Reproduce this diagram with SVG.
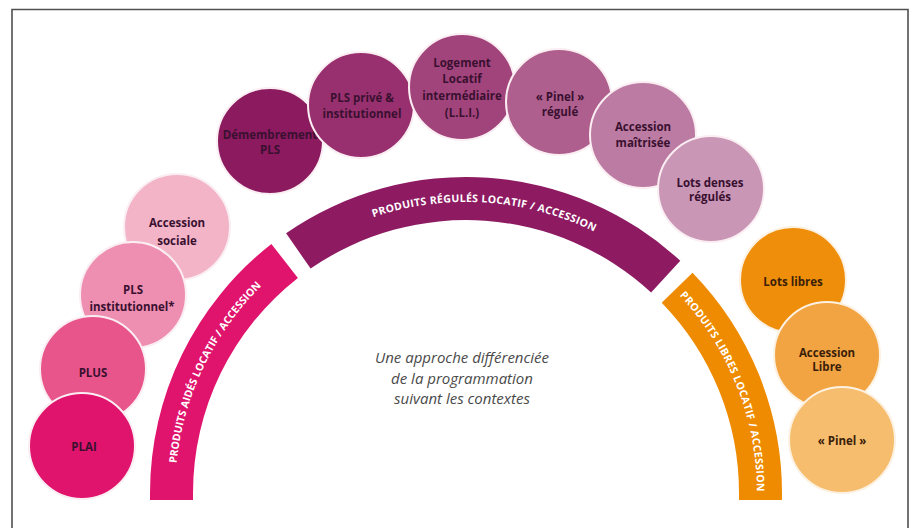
<svg xmlns="http://www.w3.org/2000/svg" width="914" height="528" viewBox="0 0 914 528">
<style>
.c{stroke:#fbeef3;stroke-width:2}
.co{stroke:#fdf1e2;stroke-width:2}
.t{font-family:"Open Sans","Liberation Sans",sans-serif;font-weight:700;font-size:11.5px;fill:#3a1030;text-anchor:middle}
.to{font-family:"Open Sans","Liberation Sans",sans-serif;font-weight:700;font-size:11.5px;fill:#3a2008;text-anchor:middle}
.b{font-family:"Open Sans","Liberation Sans",sans-serif;font-weight:700;font-size:10.5px;fill:#ffffff;text-anchor:middle}
.m{font-family:"Open Sans","Liberation Sans",sans-serif;font-style:italic;font-size:15px;fill:#4a4a4a;text-anchor:middle}
</style>
<defs>
<path id="pp" d="M175,493 A291,291 0 0 1 286.8,263.7"/>
<path id="pm" d="M300.3,253.8 A291,291 0 0 1 663.4,279.1"/>
<path id="po" d="M674.6,290.1 A291,291 0 0 1 757,493 L757,515"/>
</defs>
<rect width="914" height="528" fill="#ffffff"/>
<path d="M12,528 V9.5 H908 V528" fill="none" stroke="#505050" stroke-width="1.6"/>

<g id="bands">
<g id="band-aides">
<path d="M150,500 L150,493 A316,316 0 0 1 271.4,244 L297.9,277.9 A273,273 0 0 0 193,493 L193,500 Z" fill="#e0146d"/>
<text class="b"><textPath href="#pp" startOffset="130">PRODUITS AIDÉS LOCATIF / ACCESSION</textPath></text>
</g>
<g id="band-regules">
<path d="M286.1,233.2 A316,316 0 0 1 680.3,260.8 L651.1,292.4 A273,273 0 0 0 310.6,268.6 Z" fill="#8e1a62"/>
<text class="b" letter-spacing="0.3"><textPath href="#pm" startOffset="195.5">PRODUITS RÉGULÉS LOCATIF / ACCESSION</textPath></text>
</g>
<g id="band-libres">
<path d="M692.5,272.7 A316,316 0 0 1 782,493 L782,500 L739,500 L739,493 A273,273 0 0 0 661.7,302.7 Z" fill="#ef8b00"/>
<text class="b" letter-spacing="0.3"><textPath href="#po" startOffset="115.3">PRODUITS LIBRES LOCATIF / ACCESSION</textPath></text>
</g>
</g>

<g id="acc-sociale"><circle class="c" cx="177" cy="227" r="53" fill="#f3b4c8"/><text class="t" x="177" y="227">Accession</text><text class="t" x="177" y="245">sociale</text></g>
<g id="pls-inst"><circle class="c" cx="133" cy="295" r="53" fill="#ee8eb0"/><text class="t" x="133" y="294">PLS</text><text class="t" x="132" y="311">institutionnel*</text></g>
<g id="plus"><circle class="c" cx="93" cy="369" r="53" fill="#e8558b"/><text class="t" x="93" y="377">PLUS</text></g>
<g id="plai"><circle class="c" cx="82" cy="446" r="53" fill="#e0146d"/><text class="t" x="84" y="451">PLAI</text></g>

<g id="demembrement"><circle class="c" cx="270" cy="141" r="53" fill="#8b1a5f"/><text class="t" x="270" y="139" fill="#2e0a22">Démembrement</text><text class="t" x="270" y="154" fill="#2e0a22">PLS</text></g>
<g id="pls-prive"><circle class="c" cx="361" cy="105" r="53" fill="#98306f"/><text class="t" x="362" y="102">PLS privé &amp;</text><text class="t" x="362" y="118">institutionnel</text></g>
<g id="lli"><circle class="c" cx="462" cy="87" r="53" fill="#a2447c"/><text class="t" x="462" y="67">Logement</text><text class="t" x="462" y="83">Locatif</text><text class="t" x="462" y="100">intermédiaire</text><text class="t" x="462" y="117">(L.L.I.)</text></g>
<g id="pinel-regule"><circle class="c" cx="559" cy="102" r="53" fill="#ae5f8d"/><text class="t" x="560" y="101">« Pinel »</text><text class="t" x="560" y="116">régulé</text></g>
<g id="acc-maitrisee"><circle class="c" cx="643" cy="135" r="53" fill="#bc7ba2"/><text class="t" x="643" y="131">Accession</text><text class="t" x="643" y="147">maîtrisée</text></g>
<g id="lots-denses"><circle class="c" cx="711" cy="189" r="53" fill="#c996b6"/><text class="t" x="710" y="187">Lots denses</text><text class="t" x="710" y="201">régulés</text></g>

<g id="lots-libres"><circle class="co" cx="793" cy="280" r="53" fill="#ef8e0b"/><text class="to" x="793" y="286">Lots libres</text></g>
<g id="acc-libre"><circle class="co" cx="827" cy="355" r="53" fill="#f2a443"/><text class="to" x="827" y="357">Accession</text><text class="to" x="827" y="371">Libre</text></g>
<g id="pinel"><circle class="co" cx="842" cy="440" r="53" fill="#f6bd6e"/><text class="to" x="842" y="445">« Pinel »</text></g>

<g id="center-text">
<text class="m" x="462" y="363">Une approche différenciée</text>
<text class="m" x="462" y="384">de la programmation</text>
<text class="m" x="462" y="404">suivant les contextes</text>
</g>
</svg>
